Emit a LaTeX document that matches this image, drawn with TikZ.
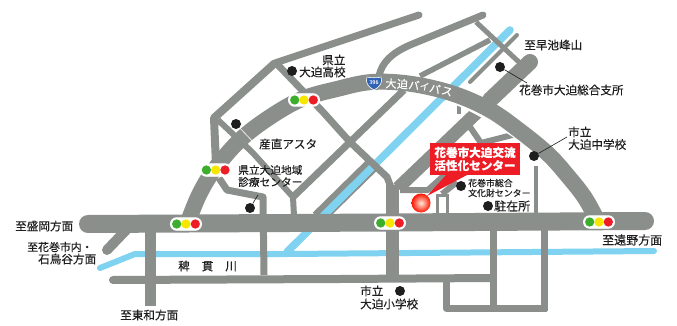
\documentclass[tikz,border=0pt]{standalone}
\usepackage{fontspec}
\newfontfamily\cjk[FakeBold=0.25]{Noto Sans CJK JP}
\definecolor{roadgray}{HTML}{8A8F8C}
\definecolor{river}{HTML}{7FD3F0}
\definecolor{ink}{HTML}{1E1E1E}
\definecolor{boxred}{HTML}{EE1C25}
\definecolor{shieldblue}{HTML}{2F62B5}
\definecolor{lampg}{HTML}{3DAE2B}
\definecolor{lampy}{HTML}{F7E600}
\definecolor{lampr}{HTML}{EE1C25}
\tikzset{
  road/.style={draw=roadgray,line width=#1,line join=round},
  road/.default=7pt,
  rroad/.style={road=#1,line cap=round},
  water/.style={draw=river,line width=#1,line join=round,line cap=round},
  lbl/.style={inner sep=0pt,anchor=west,text=ink,font=\cjk\fontsize{11.6}{12}\selectfont},
  lblsm/.style={lbl,font=\cjk\fontsize{8.9}{10}\selectfont},
  lblmd/.style={lbl,font=\cjk\fontsize{10.7}{12}\selectfont},
  spot/.style={circle,fill=ink,inner sep=0pt,minimum size=10pt},
  leader/.style={draw=#1,line width=0.6pt},
  leader/.default=ink,
  bypasschar/.style={inner sep=0pt,text=white,font=\cjk\fontsize{11}{12}\selectfont},
  pill/.style={draw=white,line width=0.8pt,fill=white,rounded corners=6pt,minimum width=31pt,minimum height=12.5pt,inner sep=0pt},
  lamp/.style={circle,inner sep=0pt,minimum size=9.3pt,fill=#1},
  boxtext/.style={inner sep=0pt,text=white,font=\cjk\bfseries\fontsize{11.6}{12}\selectfont}
}
\newcommand{\signal}[3]{%
  \node[pill] (#1) at (#2,#3) {};
  \node[lamp=lampg] (#1g) at (#2-9.3,#3) {};
  \node[lamp=lampy] (#1y) at (#2,#3) {};
  \node[lamp=lampr] (#1r) at (#2+9.3,#3) {};
}
\begin{document}
\begin{tikzpicture}[x=1pt,y=-1pt]
\useasboundingbox (0,0) rectangle (677,326);
\fill[white] (0,0) rectangle (677,326);

% river
\draw[white,line width=11pt] (290,249) -- (510,30);
\draw[water=6pt] (100,268) -- (135,254) -- (287,254) -- (654,251);

% gray shoulders of the river
\draw[road=15pt] (318,218) -- (372,165);

\draw[water=7.5pt] (287,252) -- (510,30);

% thin roads
\draw[road=7pt,line cap=round] (483,15) -- (410,45) .. controls (392,53) and (382,62) .. (379,76);
\draw[road=7pt,line cap=round] (419,15) -- (275,63);
\draw[road=8pt] (275,63) -- (214,118) -- (216,165);
\draw[road=7pt] (277,64) -- (323,112) -- (350,142) -- (387,177) -- (392,190);
\draw[road=6pt] (218,120) -- (252,152) -- (293,197) -- (294,216);
\draw[road=7pt] (293,197) -- (404,90);
\draw[road=5.5pt] (420,76) -- (490,40);
\draw[road=5pt] (476,22) -- (521,64);
\draw[road=4pt,line cap=round] (517,35) -- (470,82);
\draw[road=4pt] (459,98) -- (459,114);
\draw[road=6pt] (468,124) -- (481,143) -- (528,131);
\draw[road=4pt] (536,166) -- (536,215);
\draw[road=6pt] (400,190) -- (428,190) -- (472,150);
\draw[road=6pt] (457,182) -- (442,194);
\draw[road=3pt] (437,194) -- (437,215);
\draw[road=3pt] (447,194) -- (447,215);
\draw[road=3pt] (437,195) -- (447,195);
\draw[road=7pt] (219,178) -- (227,190) -- (263,197) -- (264,275);

% wide road from Hayachine
\draw[road=13pt] (490,100) -- (398,188);
\draw[rroad=16pt] (530,62) -- (490,100);
% vertical at the centre
\draw[road=13pt] (392,185) -- (392,278);

% lower roads
\draw[rroad=8pt] (113,280) -- (340,279) -- (492,278);
\draw[road=11pt] (150,225) -- (150,306);
\draw[road=7pt] (493,225) -- (493,306);
\draw[road=7pt] (544,225) -- (544,311);
\draw[road=7pt] (446,280) -- (446,308) -- (547,308);
\draw[rroad=10pt] (107,250) -- (130,226);

% bypass
\draw[white,line width=18pt] (460,97) .. controls (480,105) and (500,118) .. (520,131);
\draw[road=16pt] plot[smooth,tension=0.6] coordinates {(188,222) (199,195) (214,170) (240,140) (270,117) (302,99) (337,89) (372,82) (412,84) (454,94) (490,110) (520,131) (548,154) (567,175) (585,198) (598,222)};

% main road
\draw[rroad=18pt] (88,224) -- (390,222.5) -- (645,221);

% bypass text and shield
\node[bypasschar,rotate=-2] (c1) at (391,83.5) {大};
\node[bypasschar,rotate=-3] (c2) at (402.5,84) {迫};
\node[bypasschar,rotate=-6] (c3) at (414,85) {バ};
\node[bypasschar,rotate=-8,scale=.85] (c4) at (424.5,86.5) {イ};
\node[bypasschar,rotate=-12] (c5) at (435,88.5) {パ};
\node[bypasschar,rotate=-15] (c6) at (447,91.5) {ス};
\path[fill=shieldblue,draw=white,line width=.6pt] (367,77) .. controls (370,78) and (378,78) .. (381,77) .. controls (383,82) and (380,87) .. (374,90) .. controls (368,87) and (365,82) .. (367,77) -- cycle;
\node[inner sep=0pt,text=white,font=\sffamily\bfseries\fontsize{5.5}{6}\selectfont] (shield) at (374,82.5) {396};

% signals
\signal{sa}{304}{100}
\signal{sb}{215.7}{170}
\signal{sc}{186}{224}
\signal{sd}{390}{223}
\signal{se}{599}{222}

% dots and leaders
\node[spot] (d1) at (236,124) {};
\coordinate (d1e) at (258,147);
\draw[leader=white] (d1) -- (d1e);
\node[spot] (d2) at (292,71) {};
\node[spot] (d3) at (500,67) {};
\coordinate (d3e) at (527,83);
\draw[leader] (d3) -- (d3e);
\node[spot] (d4) at (250,208) {};
\coordinate (d4e) at (258,195);
\draw[leader] (d4) -- (d4e);
\node[spot] (d5) at (534,156) {};
\coordinate (d5e) at (567,137);
\draw[leader] (d5) -- (d5e);
\node[spot] (d6) at (461,186) {};
\node[spot] (d7) at (488,206) {};
\node[spot] (d8) at (400,291) {};

% labels
\node[lbl] (t1) at (322,60) {県立};
\node[lbl] (t2) at (299,72) {大迫高校};
\node[lbl] (t3) at (524,45) {至早池峰山};
\node[lbl] (t4) at (519,90) {花巻市大迫総合支所};
\node[lbl] (t5) at (568,132) {市立};
\node[lbl] (t6) at (568,144.5) {大迫中学校};
\node[lbl] (t7) at (259,144) {産直アスタ};
\node[lblmd] (t8) at (238,170) {県立大迫地域};
\node[lblmd] (t9) at (238,182) {診療センター};
\node[lblsm] (t10) at (468,183) {花巻市総合};
\node[lblsm] (t11) at (468,193) {文化財センター};
\node[lbl,font=\cjk\fontsize{12}{12}\selectfont] (t12) at (494,206) {駐在所};
\node[lbl,font=\cjk\fontsize{12}{12}\selectfont] (t13) at (602,240) {至遠野方面};
\node[lbl] (t14) at (360,291) {市立};
\node[lbl] (t15) at (360,304) {大迫小学校};
\node[lbl] (t16) at (120,315) {至東和方面};
\node[lbl] (t17) at (178,266) {稗\hspace{12pt}貫\hspace{12pt}川};
\node[lbl,font=\cjk\fontsize{10.9}{12}\selectfont] (t18) at (27,247) {至花巻市内・};
\node[lbl] (t19) at (38,259) {石鳥谷方面};
\node[lbl] (t20) at (15,226) {至盛岡方面};

% facility callout
\node[circle,minimum size=18pt,inner sep=0pt] (target) at (421,203) {};
\fill[boxred] (447,174) -- (469,174) -- (427,196) -- cycle;
\shade[inner color=white!85!orange,middle color=orange!70!red,outer color=red!85!orange] (target.center) circle (9.5pt);
\node[fill=boxred,minimum width=90pt,minimum height=32pt,inner sep=0pt] (box) at (475,159) {};
\node[boxtext] (b1) at (475,152.5) {花巻市大迫交流};
\node[boxtext] (b2) at (475,165.5) {活性化センター};
\end{tikzpicture}
\end{document}
